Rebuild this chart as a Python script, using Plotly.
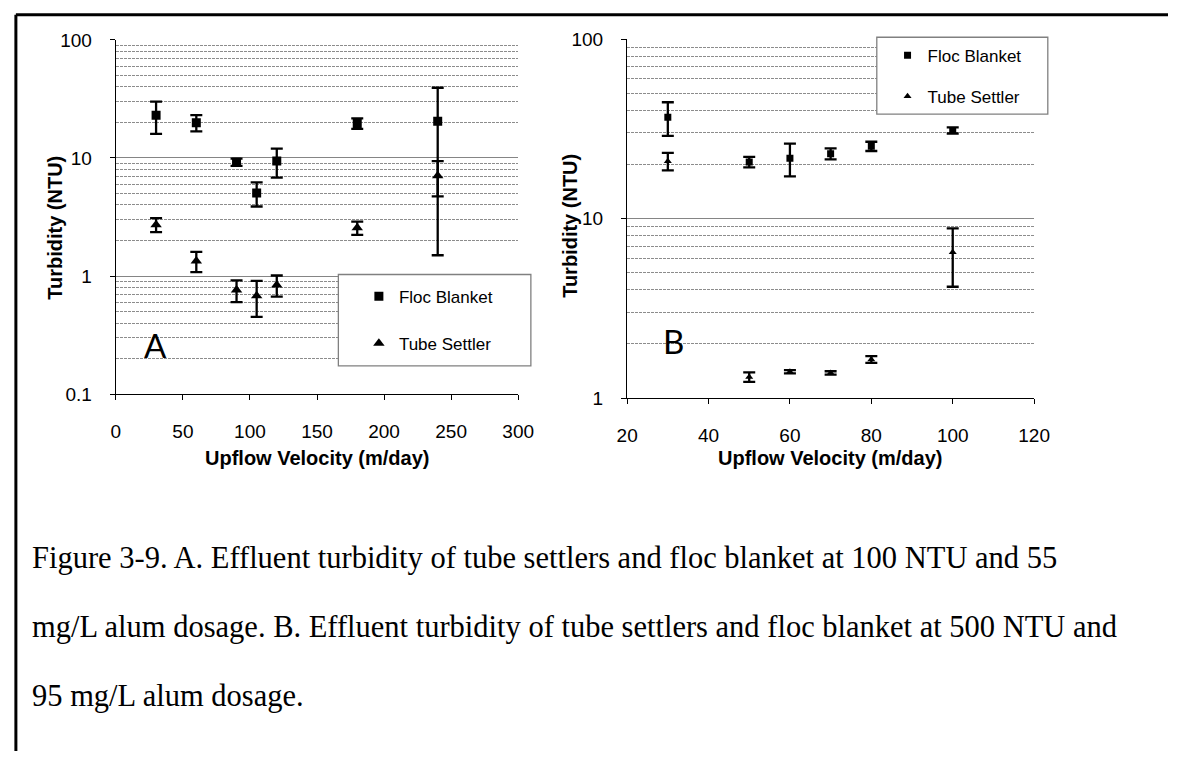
import plotly.graph_objects as go

# =========================
# data
# =========================

# panel A : 100 NTU, 55 mg/L alum
A_VELOCITY = [30, 60, 90, 105, 120, 180, 240]
A_FLOC = [23.0, 19.9, 9.2, 5.05, 9.4, 19.6, 20.4]
A_FLOC_ERR = [7.0, 3.1, 0.65, 1.17, 2.6, 2.0, 18.9]
A_TUBE = [2.72, 1.34, 0.76, 0.68, 0.84, 2.56, 7.06]
A_TUBE_ERR = [0.37, 0.26, 0.16, 0.23, 0.17, 0.33, 2.34]

# panel B : 500 NTU, 95 mg/L alum
B_VELOCITY = [30, 50, 60, 70, 80, 100]
B_FLOC = [36.7, 20.7, 21.7, 23.0, 25.3, 31.0]
B_FLOC_ERR = [7.8, 1.4, 4.5, 1.6, 1.5, 1.2]
B_TUBE = [20.9, 1.31, 1.40, 1.38, 1.64, 6.5]
B_TUBE_ERR = [2.35, 0.08, 0.03, 0.03, 0.07, 2.33]

A_Y_TICKS = [0.1, 1, 10, 100]
A_Y_LABELS = ["0.1", "1", "10", "100"]
B_Y_TICKS = [1, 10, 100]
B_Y_LABELS = ["1", "10", "100"]

CAPTION = [
    "Figure 3-9. A. Effluent turbidity of tube settlers and floc blanket at 100 NTU and 55",
    "mg/L alum dosage. B. Effluent turbidity of tube settlers and floc blanket at 500 NTU and",
    "95 mg/L alum dosage.",
]

# =========================
# styling
# =========================
W, H = 1184, 762
FONT = "Liberation Sans"
MAJOR_GRID = "#858585"
MINOR_GRID = "#8c8c8c"


def px(x):
    return x / W


def py(y):
    return 1 - y / H


def minor_vals(lo, hi):
    return [m * 10 ** e for e in range(lo, hi) for m in range(2, 10)]


def add_series(fig, x, y, err, name, symbol, size, xa, ya, legend):
    fig.add_trace(
        go.Scatter(
            x=x,
            y=y,
            mode="markers",
            name=name,
            xaxis=xa,
            yaxis=ya,
            legend=legend,
            legendgroup=legend + name,
            marker=dict(symbol=symbol, size=size, color="black"),
            error_y=dict(type="data", array=err, visible=True,
                         color="black", thickness=2.3, width=6),
        )
    )


fig = go.Figure()

add_series(fig, A_VELOCITY, A_FLOC, A_FLOC_ERR, "Floc Blanket", "square", 9, "x", "y", "legend")
add_series(fig, A_VELOCITY, A_TUBE, A_TUBE_ERR, "Tube Settler", "triangle-up", 10, "x", "y", "legend")
add_series(fig, B_VELOCITY, B_FLOC, B_FLOC_ERR, "Floc Blanket", "square", 7, "x2", "y2", "legend2")
add_series(fig, B_VELOCITY, B_TUBE, B_TUBE_ERR, "Tube Settler", "triangle-up", 7, "x2", "y2", "legend2")

axis_common = dict(
    showline=True,
    linecolor="black",
    linewidth=1.3,
    ticks="outside",
    ticklen=5,
    tickcolor="black",
    tickfont=dict(family=FONT, size=19, color="black"),
    showgrid=False,
    zeroline=False,
)

xaxis_common = dict(axis_common, ticklabelstandoff=15)

yaxis_common = dict(
    axis_common,
    type="log",
    tickmode="array",
    showgrid=True,
    gridcolor=MAJOR_GRID,
    gridwidth=1,
    ticklabelstandoff=14,
)

fig.update_layout(
    width=W,
    height=H,
    margin=dict(l=0, r=0, t=0, b=0),
    paper_bgcolor="white",
    plot_bgcolor="white",
    font=dict(family=FONT, color="black"),
    showlegend=True,
    xaxis=dict(xaxis_common, domain=[px(107.3), px(519)], range=[0, 300],
               dtick=50, tick0=0, anchor="y"),
    yaxis=dict(yaxis_common, domain=[py(395), py(30.7)], range=[-1, 2],
               tickvals=A_Y_TICKS, ticktext=A_Y_LABELS, anchor="x",
               minor=dict(tickmode="array", tickvals=minor_vals(-1, 2),
                          showgrid=True, gridcolor=MINOR_GRID,
                          griddash="3px,1px", gridwidth=1, ticks="")),
    xaxis2=dict(xaxis_common, domain=[px(630.5), px(1047)], range=[20, 120],
                dtick=20, tick0=20, anchor="y2"),
    yaxis2=dict(yaxis_common, domain=[py(399), py(30)], range=[0, 2],
                tickvals=B_Y_TICKS, ticktext=B_Y_LABELS, anchor="x2",
                minor=dict(tickmode="array", tickvals=minor_vals(0, 2),
                           showgrid=True, gridcolor=MINOR_GRID,
                           griddash="3px,1px", gridwidth=1, ticks="")),
    legend=dict(
        x=px(356), y=py(319), xanchor="left", yanchor="middle",
        bgcolor="rgba(0,0,0,0)", borderwidth=0,
        font=dict(family=FONT, size=17, color="black"),
        tracegroupgap=22,
    ),
    legend2=dict(
        x=px(897), y=py(68), xanchor="left", yanchor="middle",
        bgcolor="rgba(0,0,0,0)", borderwidth=0,
        font=dict(family=FONT, size=17, color="black"),
        tracegroupgap=16,
    ),
)

# legend boxes and page frame
shapes = [
    dict(type="rect", xref="paper", yref="paper",
         x0=px(335), x1=px(532), y0=py(366), y1=py(272),
         fillcolor="white", line=dict(color="#808080", width=1.3), layer="above"),
    dict(type="rect", xref="paper", yref="paper",
         x0=px(886), x1=px(1061), y0=py(107), y1=py(28),
         fillcolor="white", line=dict(color="#808080", width=1.3), layer="above"),
    dict(type="line", xref="paper", yref="paper",
         x0=px(5), x1=1, y0=py(5), y1=py(5), line=dict(color="black", width=3)),
    dict(type="line", xref="paper", yref="paper",
         x0=px(5), x1=px(5), y0=py(5), y1=0, line=dict(color="black", width=3)),
]
fig.update_layout(shapes=shapes)

annotations = []

# axis titles
title_font = dict(family=FONT, size=20, color="black")
for xc, yc, text, angle in [
    (45, 224, "<b>Turbidity (NTU)</b>", -90),
    (572, 222, "<b>Turbidity (NTU)</b>", -90),
    (313, 461, "<b>Upflow Velocity (m/day)</b>", 0),
    (838, 461, "<b>Upflow Velocity (m/day)</b>", 0),
]:
    annotations.append(dict(
        x=px(xc), y=py(yc), xref="paper", yref="paper", text=text,
        textangle=angle, showarrow=False, font=title_font,
        xanchor="center", yanchor="middle",
    ))

# panel letters
for xc, yc, text in [(148, 345, "A"), (678, 340, "B")]:
    annotations.append(dict(
        x=px(xc), y=py(yc), xref="paper", yref="paper", text=text,
        showarrow=False, font=dict(family="Lato", size=33, color="black"),
        xanchor="center", yanchor="middle",
    ))

# caption
for i, line in enumerate(CAPTION):
    annotations.append(dict(
        x=px(19), y=py(564 + 70.5 * i), xref="paper", yref="paper", text=line,
        showarrow=False, font=dict(family="Liberation Serif", size=30.5, color="black"),
        xanchor="left", yanchor="middle",
    ))

fig.update_layout(annotations=annotations)

fig.write_html(
    "out.html",
    config={"displayModeBar": False},
    post_script="document.body.style.margin = '0px';",
)
